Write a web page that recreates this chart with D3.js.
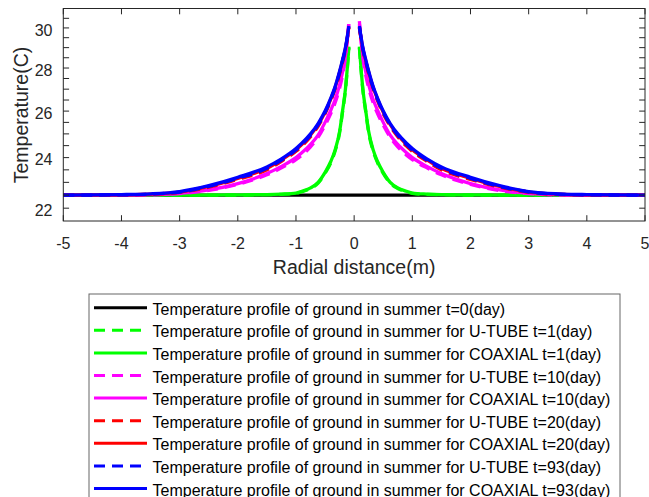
<!DOCTYPE html>
<html>
<head>
  <meta charset="UTF-8">
  <script src="https://d3js.org/d3.v7.min.js"></script>
  <style>
    body { margin: 0; background: #fff; }
    text { font-family: "Liberation Sans", Arial, sans-serif; fill: #262626; }
  </style>
</head>
<body>
<script>
  // radial distance from borehole axis (m), each profile mirrored to both sides
  var radius = [0.09, 0.15, 0.2, 0.25, 0.33, 0.4, 0.5, 0.62, 0.75, 0.9, 1.0, 1.25, 1.5, 2.0, 2.5, 3.0, 3.5, 4.0, 5.0];

  // temperatures (C)
  var uTube1    = [29.0, 26.95, 25.95, 25.05, 24.25, 23.8, 23.36, 22.97, 22.76, 22.63, 22.57, 22.53, 22.52, 22.5, 22.5, 22.5, 22.5, 22.5, 22.5];
  var coaxial1  = [29.05, 27.0, 26.0, 25.1, 24.3, 23.85, 23.4, 23.0, 22.78, 22.65, 22.58, 22.54, 22.52, 22.51, 22.5, 22.5, 22.5, 22.5, 22.5];
  var uTube10   = [30.35, 28.5, 27.65, 27.05, 26.35, 25.9, 25.38, 24.85, 24.45, 24.1, 23.92, 23.58, 23.3, 22.92, 22.68, 22.56, 22.51, 22.5, 22.5];
  var coaxial10 = [30.2, 28.6, 27.8, 27.2, 26.5, 26.05, 25.5, 24.95, 24.55, 24.2, 24.0, 23.64, 23.35, 22.95, 22.7, 22.57, 22.52, 22.5, 22.5];
  var uTube20   = [30.0, 28.88, 28.28, 27.72, 26.98, 26.48, 25.88, 25.33, 24.88, 24.48, 24.26, 23.85, 23.5, 23.12, 22.81, 22.61, 22.53, 22.51, 22.5];
  var coaxial20 = [30.05, 28.95, 28.35, 27.8, 27.05, 26.55, 25.95, 25.4, 24.95, 24.55, 24.33, 23.91, 23.56, 23.16, 22.84, 22.62, 22.54, 22.51, 22.5];
  var uTube93   = [30.05, 28.93, 28.33, 27.78, 27.03, 26.54, 25.94, 25.39, 24.94, 24.54, 24.32, 23.9, 23.56, 23.16, 22.84, 22.62, 22.54, 22.51, 22.5];
  var coaxial93 = [30.1, 29.0, 28.4, 27.85, 27.1, 26.6, 26.0, 25.45, 25.0, 24.6, 24.38, 23.95, 23.62, 23.2, 22.87, 22.64, 22.55, 22.52, 22.5];

  // initial ground temperature, t=0
  var groundX = [-5, 5];
  var groundT = [22.5, 22.5];

  var xTicks = [-5, -4, -3, -2, -1, 0, 1, 2, 3, 4, 5];
  var yTicks = [22, 24, 26, 28, 30];
  var yMinor = [22.5, 23, 23.5, 24.5, 25, 25.5, 26.5, 27, 27.5, 28.5, 29, 29.5, 30.5];

  var legendLabels = [
    'Temperature profile of ground in summer t=0(day)',
    'Temperature profile of ground in summer for U-TUBE t=1(day)',
    'Temperature profile of ground in summer for COAXIAL t=1(day)',
    'Temperature profile of ground in summer for U-TUBE t=10(day)',
    'Temperature profile of ground in summer for COAXIAL t=10(day)',
    'Temperature profile of ground in summer for U-TUBE t=20(day)',
    'Temperature profile of ground in summer for COAXIAL t=20(day)',
    'Temperature profile of ground in summer for U-TUBE t=93(day)',
    'Temperature profile of ground in summer for COAXIAL t=93(day)'
  ];
  var colors = ['#000000', '#00ff00', '#00ff00', '#ff00ff', '#ff00ff', '#ff0000', '#ff0000', '#0000ff', '#0000ff'];
  var dashed = [false, true, false, true, false, true, false, true, false];
  var profiles = [null, uTube1, coaxial1, uTube10, coaxial10, uTube20, coaxial20, uTube93, coaxial93];

  var width = 649, height = 497;
  var axL = 63.3, axR = 645, axT = 8.5, axB = 221;
  var dash = '11,7';

  var svg = d3.select('body').append('svg').attr('width', width).attr('height', height);

  var x = d3.scaleLinear().domain([-5, 5]).range([axL, axR]);
  var y = d3.scaleLog().domain([21.52, 31.02]).range([axB, axT]);

  svg.append('clipPath').attr('id', 'plotclip')
    .append('rect').attr('x', axL).attr('y', axT).attr('width', axR - axL).attr('height', axB - axT);

  var line = d3.line()
    .x(function(d) { return x(d[0]); })
    .y(function(d) { return y(d[1]); })
    .curve(d3.curveMonotoneX);

  var plot = svg.append('g').attr('clip-path', 'url(#plotclip)');

  profiles.forEach(function(vals, i) {
    var branches;
    if (vals === null) {
      branches = [groundX.map(function(v, j) { return [v, groundT[j]]; })];
    } else {
      var rightSide = radius.map(function(r, j) { return [r, vals[j]]; });
      var leftSide = radius.map(function(r, j) { return [-r, vals[j]]; }).reverse();
      branches = [leftSide, rightSide];
    }
    branches.forEach(function(pts) {
      plot.append('path')
        .attr('d', line(pts))
        .attr('fill', 'none')
        .attr('stroke', colors[i])
        .attr('stroke-width', 3.3)
        .attr('stroke-dasharray', dashed[i] ? dash : null);
    });
  });

  // axes box and inward ticks (MATLAB style)
  var axisColor = '#262626';
  var tl = 5.8;
  var frame = svg.append('g').attr('stroke', axisColor).attr('stroke-width', 1).attr('fill', 'none');
  frame.append('rect').attr('x', axL).attr('y', axT).attr('width', axR - axL).attr('height', axB - axT);

  xTicks.forEach(function(t) {
    var px = x(t);
    frame.append('line').attr('x1', px).attr('x2', px).attr('y1', axB).attr('y2', axB - tl);
    frame.append('line').attr('x1', px).attr('x2', px).attr('y1', axT).attr('y2', axT + tl);
    svg.append('text').attr('x', px).attr('y', 249)
      .attr('text-anchor', 'middle').style('font-size', '16px').text(t);
  });

  yTicks.concat(yMinor).forEach(function(t) {
    var py = y(t);
    frame.append('line').attr('x1', axL).attr('x2', axL + tl).attr('y1', py).attr('y2', py);
    frame.append('line').attr('x1', axR).attr('x2', axR - tl).attr('y1', py).attr('y2', py);
  });
  yTicks.forEach(function(t) {
    svg.append('text').attr('x', 52.5).attr('y', y(t) + 7.6)
      .attr('text-anchor', 'end').style('font-size', '16px').text(t);
  });

  svg.append('text').attr('x', (axL + axR) / 2).attr('y', 273.5)
    .attr('text-anchor', 'middle').style('font-size', '19.5px').text('Radial distance(m)');
  svg.append('text').attr('transform', 'translate(27.5,115) rotate(-90)')
    .attr('text-anchor', 'middle').style('font-size', '19.5px').text('Temperature(C)');

  // legend
  var legend = svg.append('g');
  legend.append('rect').attr('x', 89).attr('y', 294).attr('width', 531).attr('height', 215)
    .attr('fill', '#fff').attr('stroke', '#666').attr('stroke-width', 1);
  legendLabels.forEach(function(lab, i) {
    var ly = 307.7 + i * 22.6;
    legend.append('line').attr('x1', 94).attr('x2', 147).attr('y1', ly).attr('y2', ly)
      .attr('stroke', colors[i]).attr('stroke-width', 3)
      .attr('stroke-dasharray', dashed[i] ? dash : null);
    legend.append('text').attr('x', 152.5).attr('y', ly + 7)
      .style('font-size', '16px').style('fill', '#000').text(lab);
  });

  console.log('ready..');
</script>
</body>
</html>
